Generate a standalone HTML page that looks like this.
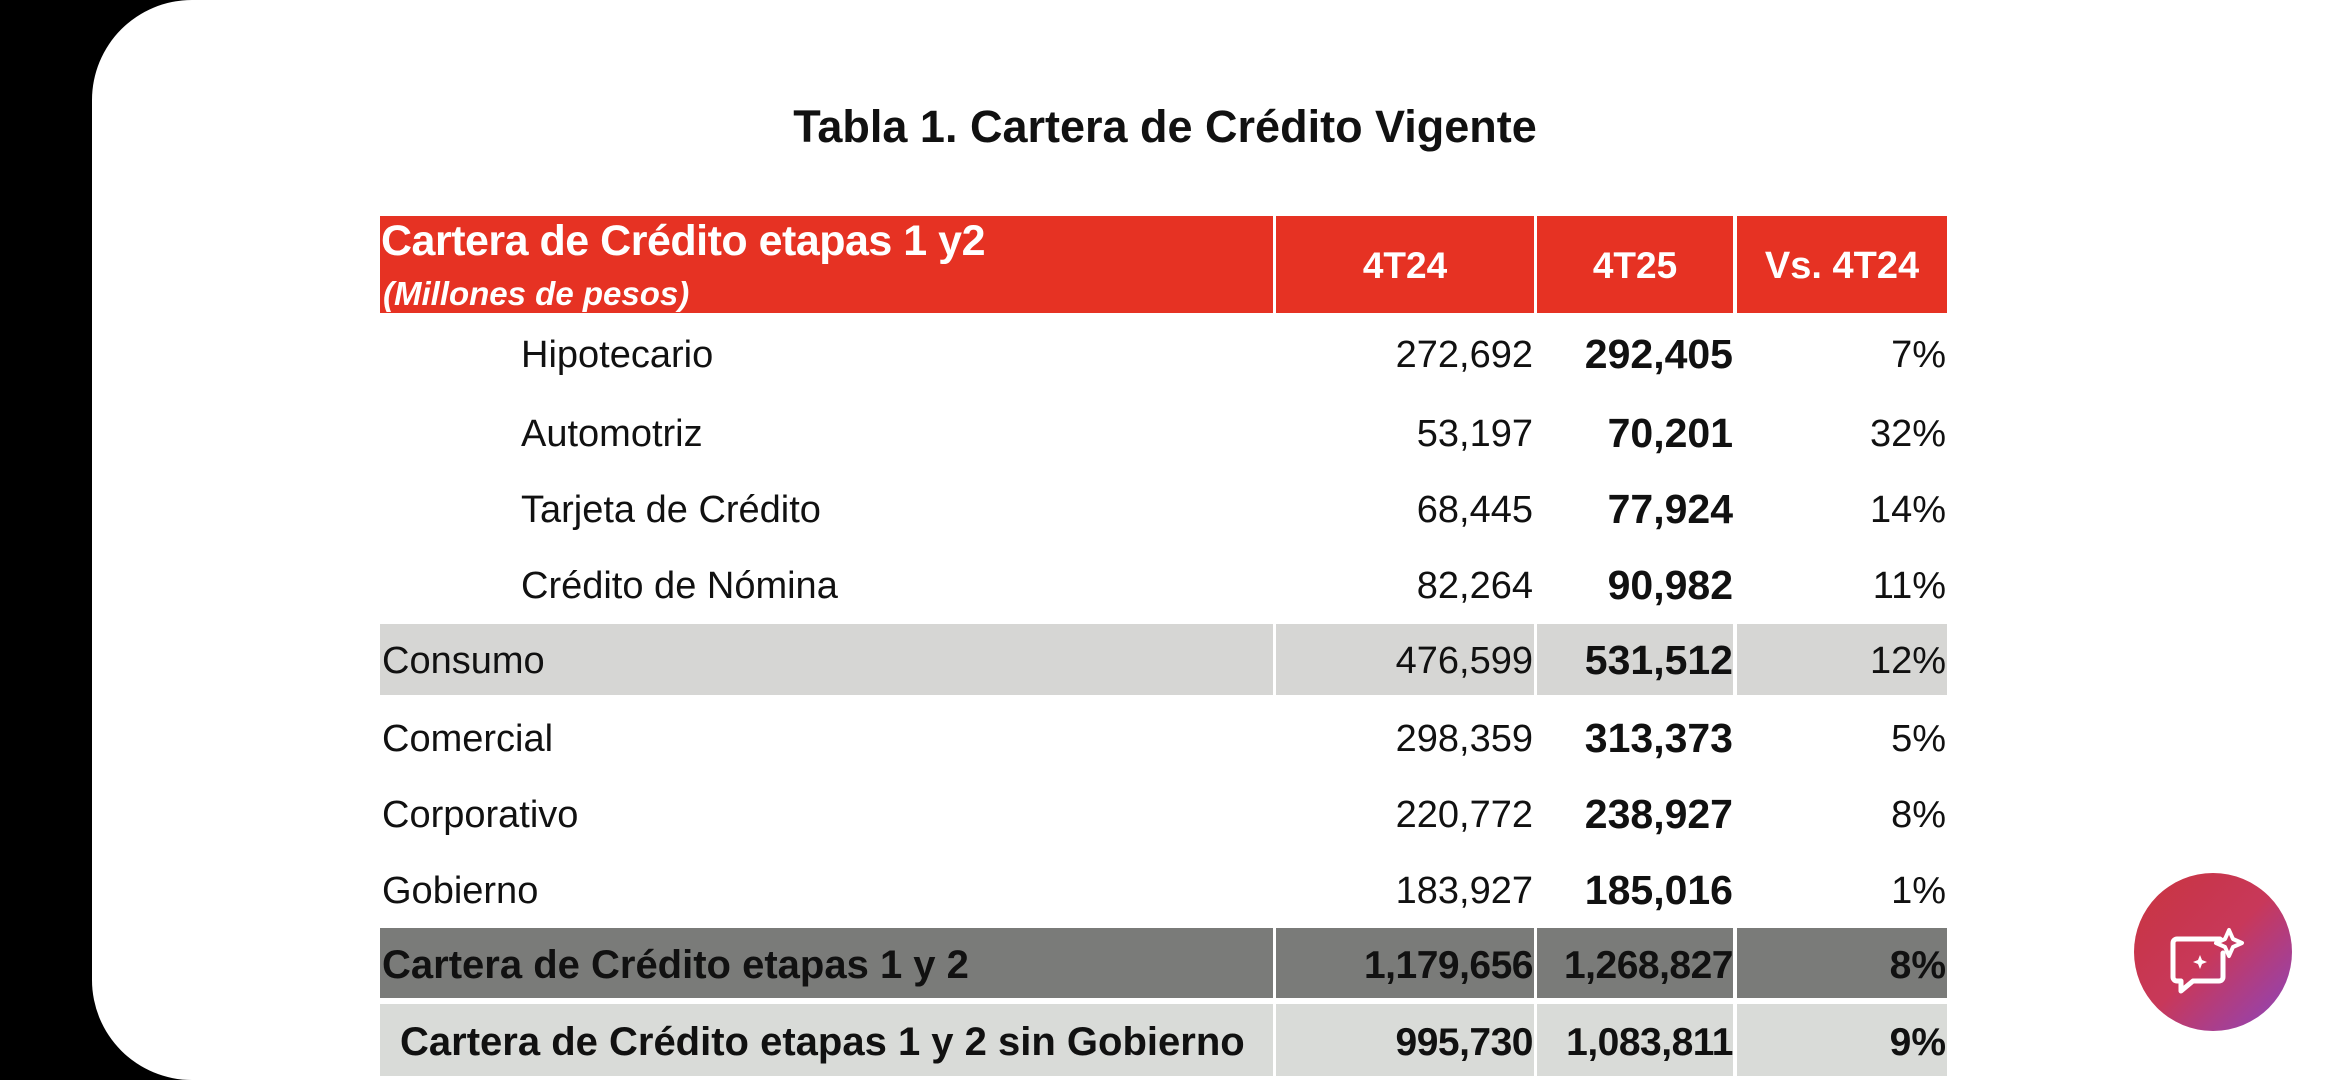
<!DOCTYPE html>
<html><head><meta charset="utf-8"><style>
html,body{margin:0;padding:0;width:2340px;height:1080px;background:#000;overflow:hidden}
.card{position:absolute;left:92px;top:0;width:2248px;height:1080px;background:#fff;border-radius:100px 0 0 100px}
.t{position:absolute;font-family:"Liberation Sans",sans-serif;color:#111;white-space:nowrap;line-height:1}
.r{text-align:right}
.b{font-weight:bold}
.n{font-size:38px}
.bn{font-size:41px;font-weight:bold}
.box{position:absolute}
</style></head><body>
<div class="card"></div>
<div class="t b" style="left:0;width:2330px;text-align:center;top:104px;font-size:45px;transform:scaleX(1.0)">Tabla 1. Cartera de Crédito Vigente</div>

<div class="box" style="left:380px;top:216px;width:893px;height:97px;background:#e63223"></div>
<div class="box" style="left:1276px;top:216px;width:258px;height:97px;background:#e63223"></div>
<div class="box" style="left:1537px;top:216px;width:196px;height:97px;background:#e63223"></div>
<div class="box" style="left:1737px;top:216px;width:210px;height:97px;background:#e63223"></div>
<div class="t" style="left:381px;top:220px;font-size:43px;color:#fff;font-weight:bold;letter-spacing:-0.5px">Cartera de Crédito etapas 1 y2</div>
<div class="t b" style="left:383px;top:277px;font-size:33px;color:#fff;font-style:italic">(Millones de pesos)</div>
<div class="t b" style="left:1276px;width:258px;text-align:center;top:247px;font-size:37px;color:#fff">4T24</div>
<div class="t b" style="left:1537px;width:196px;text-align:center;top:247px;font-size:37px;color:#fff">4T25</div>
<div class="t b" style="left:1737px;width:210px;text-align:center;top:247px;font-size:38px;color:#fff">Vs. 4T24</div>

<div class="box" style="left:380px;top:624px;width:893px;height:71px;background:#d6d6d4"></div>
<div class="box" style="left:1276px;top:624px;width:258px;height:71px;background:#d6d6d4"></div>
<div class="box" style="left:1537px;top:624px;width:196px;height:71px;background:#d6d6d4"></div>
<div class="box" style="left:1737px;top:624px;width:210px;height:71px;background:#d6d6d4"></div>

<div class="box" style="left:380px;top:928px;width:893px;height:70px;background:#7a7b79"></div>
<div class="box" style="left:1276px;top:928px;width:258px;height:70px;background:#7a7b79"></div>
<div class="box" style="left:1537px;top:928px;width:196px;height:70px;background:#7a7b79"></div>
<div class="box" style="left:1737px;top:928px;width:210px;height:70px;background:#7a7b79"></div>

<div class="box" style="left:380px;top:1004px;width:893px;height:72px;background:#d9dbd8"></div>
<div class="box" style="left:1276px;top:1004px;width:258px;height:72px;background:#d9dbd8"></div>
<div class="box" style="left:1537px;top:1004px;width:196px;height:72px;background:#d9dbd8"></div>
<div class="box" style="left:1737px;top:1004px;width:210px;height:72px;background:#d9dbd8"></div>

<div class="t n" style="left:521px;top:336px">Hipotecario</div>
<div class="t r n" style="left:1233px;width:300px;top:336px">272,692</div>
<div class="t r bn" style="left:1433px;width:300px;top:334px">292,405</div>
<div class="t r n" style="left:1646px;width:300px;top:336px">7%</div>

<div class="t n" style="left:521px;top:415px">Automotriz</div>
<div class="t r n" style="left:1233px;width:300px;top:415px">53,197</div>
<div class="t r bn" style="left:1433px;width:300px;top:413px">70,201</div>
<div class="t r n" style="left:1646px;width:300px;top:415px">32%</div>

<div class="t n" style="left:521px;top:491px">Tarjeta de Crédito</div>
<div class="t r n" style="left:1233px;width:300px;top:491px">68,445</div>
<div class="t r bn" style="left:1433px;width:300px;top:489px">77,924</div>
<div class="t r n" style="left:1646px;width:300px;top:491px">14%</div>

<div class="t n" style="left:521px;top:567px">Crédito de Nómina</div>
<div class="t r n" style="left:1233px;width:300px;top:567px">82,264</div>
<div class="t r bn" style="left:1433px;width:300px;top:565px">90,982</div>
<div class="t r n" style="left:1646px;width:300px;top:567px">11%</div>

<div class="t n" style="left:382px;top:642px">Consumo</div>
<div class="t r n" style="left:1233px;width:300px;top:642px">476,599</div>
<div class="t r bn" style="left:1433px;width:300px;top:640px">531,512</div>
<div class="t r n" style="left:1646px;width:300px;top:642px">12%</div>

<div class="t n" style="left:382px;top:720px">Comercial</div>
<div class="t r n" style="left:1233px;width:300px;top:720px">298,359</div>
<div class="t r bn" style="left:1433px;width:300px;top:718px">313,373</div>
<div class="t r n" style="left:1646px;width:300px;top:720px">5%</div>

<div class="t n" style="left:382px;top:796px">Corporativo</div>
<div class="t r n" style="left:1233px;width:300px;top:796px">220,772</div>
<div class="t r bn" style="left:1433px;width:300px;top:794px">238,927</div>
<div class="t r n" style="left:1646px;width:300px;top:796px">8%</div>

<div class="t n" style="left:382px;top:872px">Gobierno</div>
<div class="t r n" style="left:1233px;width:300px;top:872px">183,927</div>
<div class="t r bn" style="left:1433px;width:300px;top:870px">185,016</div>
<div class="t r n" style="left:1646px;width:300px;top:872px">1%</div>

<div class="t b" style="left:382px;top:945px;font-size:40px">Cartera de Crédito etapas 1 y 2</div>
<div class="t r b" style="left:1233px;width:300px;top:946px;font-size:39px;letter-spacing:-0.5px">1,179,656</div>
<div class="t r b" style="left:1433px;width:300px;top:946px;font-size:39px;letter-spacing:-0.5px">1,268,827</div>
<div class="t r b" style="left:1646px;width:300px;top:946px;font-size:39px">8%</div>

<div class="t b" style="left:400px;top:1022px;font-size:40px">Cartera de Crédito etapas 1 y 2 sin Gobierno</div>
<div class="t r b" style="left:1233px;width:300px;top:1023px;font-size:39px;letter-spacing:-0.5px">995,730</div>
<div class="t r b" style="left:1433px;width:300px;top:1023px;font-size:39px;letter-spacing:-0.5px">1,083,811</div>
<div class="t r b" style="left:1646px;width:300px;top:1023px;font-size:39px">9%</div>

<div class="box" style="left:2134px;top:873px;width:158px;height:158px;border-radius:50%;background:linear-gradient(135deg,#c9343f 0%,#c8385a 50%,#8a45c0 100%)"></div>
<svg class="box" style="left:2134px;top:873px" width="158" height="158" viewBox="0 0 158 158">
<path d="M64 66 h22 M89 80 v24 a4 4 0 0 1 -4 4 h-26 l-12 10 v-10 h-4 a4 4 0 0 1 -4 -4 v-34 a4 4 0 0 1 4 -4 h22" fill="none" stroke="#fff" stroke-width="5" stroke-linecap="round" stroke-linejoin="round"/>
<path d="M95 57 l4 9 l9 4 l-9 4 l-4 9 l-4 -9 l-9 -4 l9 -4 z" fill="none" stroke="#fff" stroke-width="4" stroke-linejoin="round"/>
<path d="M66 82 l2 5 l5 2 l-5 2 l-2 5 l-2 -5 l-5 -2 l5 -2 z" fill="#fff"/>
</svg>
</body></html>
